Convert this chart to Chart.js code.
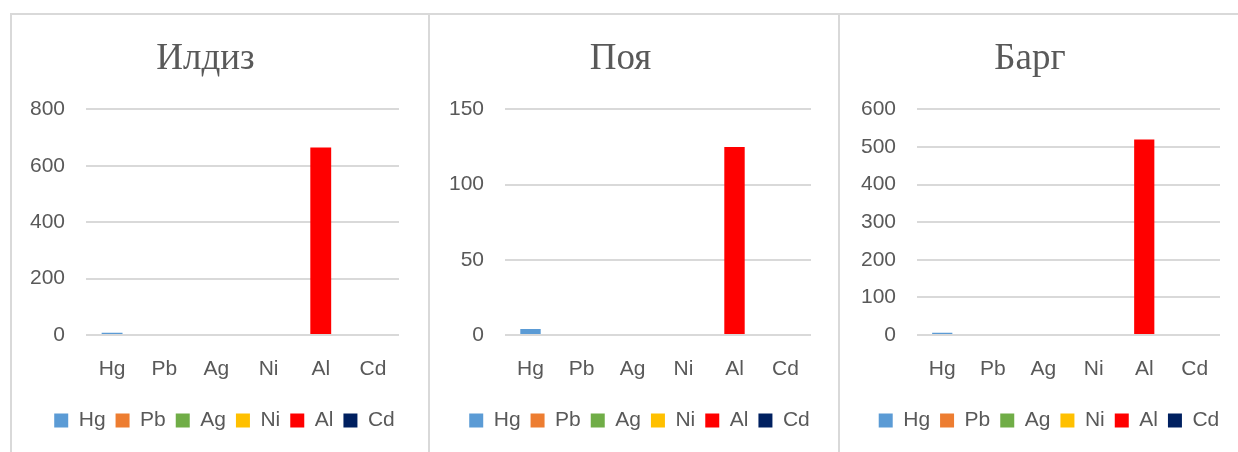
<!DOCTYPE html>
<html>
<head>
<meta charset="utf-8">
<script src="https://cdn.jsdelivr.net/npm/chart.js@4.4.1/dist/chart.umd.min.js"></script>
<style>
  body { margin: 0; background: #fff; width: 1238px; height: 452px; overflow: hidden; position: relative; }
  .panel { position: absolute; top: 13px; height: 460px; border: 2px solid #d9d9d9; box-sizing: border-box; background: #fff; }
  .panel canvas { position: absolute; left: 0; top: 0; }
</style>
</head>
<body>
<div class="panel" style="left:10px;width:420px"><canvas id="rootChart" width="416" height="437"></canvas></div>
<div class="panel" style="left:428px;width:412px"><canvas id="stemChart" width="408" height="437"></canvas></div>
<div class="panel" style="left:838px;width:420px"><canvas id="leafChart" width="398" height="437"></canvas></div>

<script>
// elements (same order as the legend)
const elements = ['Hg', 'Pb', 'Ag', 'Ni', 'Al', 'Cd'];
const elementColors = ['#5B9BD5', '#ED7D31', '#70AD47', '#FFC000', '#FF0000', '#002060'];

// values
const rootValues = [8, 0, 0, 0, 665, 0];   // Илдиз
const stemValues = [4, 0, 0, 0, 125, 0];   // Поя
const leafValues = [6, 0, 0, 0, 520, 0];   // Барг

// y axis ticks
const rootTicks = [0, 200, 400, 600, 800];
const stemTicks = [0, 50, 100, 150];
const leafTicks = [0, 100, 200, 300, 400, 500, 600];

const textGrey = '#595959';
const sansFont = "'Liberation Sans', Arial, sans-serif";

// nudge the legend a bit to the right, like in the original
const legendShift = {
  id: 'legendShift',
  afterUpdate(chart) {
    const lg = chart.legend;
    if (!lg) return;
    lg.left += 19;
    lg.right += 19;
    lg.adjustHitBoxes();
  }
};

function drawPanel(id, title, values, ticks, yWidth, rightPad) {
  new Chart(document.getElementById(id), {
    type: 'bar',
    data: {
      labels: elements,
      datasets: [{
        data: values,
        backgroundColor: elementColors,
        borderWidth: 0,
        barPercentage: 0.4,
        categoryPercentage: 1
      }]
    },
    plugins: [legendShift],
    options: {
      responsive: false,
      animation: false,
      layout: { padding: { top: 0, right: rightPad, bottom: 11, left: 0 } },
      plugins: {
        tooltip: { enabled: false },
        title: {
          display: true,
          text: title,
          color: textGrey,
          font: { family: "'Liberation Serif', 'Times New Roman', serif", size: 37, weight: 'normal' },
          padding: { top: 22, bottom: 28 }
        },
        legend: {
          position: 'bottom',
          onClick: null,
          labels: {
            color: textGrey,
            font: { family: sansFont, size: 21 },
            boxWidth: 14,
            boxHeight: 14,
            padding: 10,
            generateLabels: () => elements.map((el, i) => ({
              text: el,
              fillStyle: elementColors[i],
              strokeStyle: elementColors[i],
              lineWidth: 0,
              fontColor: textGrey,
              hidden: false,
              index: i
            }))
          }
        }
      },
      scales: {
        x: {
          grid: { display: false },
          border: { display: false },
          ticks: { color: textGrey, font: { family: sansFont, size: 21 }, padding: 14 },
          afterFit: s => { s.height = 65; }
        },
        y: {
          min: ticks[0],
          max: ticks[ticks.length - 1],
          afterBuildTicks: s => { s.ticks = ticks.map(v => ({ value: v })); },
          grid: { color: '#d9d9d9', lineWidth: 2, drawTicks: false },
          border: { display: false },
          ticks: { color: textGrey, font: { family: sansFont, size: 21 }, padding: 21 },
          afterFit: s => { s.width = yWidth; }
        }
      }
    }
  });
}

drawPanel('rootChart', 'Илдиз', rootValues, rootTicks, 74, 29);
drawPanel('stemChart', 'Поя', stemValues, stemTicks, 75, 27);
drawPanel('leafChart', 'Барг', leafValues, leafTicks, 77, 18);
</script>
</body>
</html>
